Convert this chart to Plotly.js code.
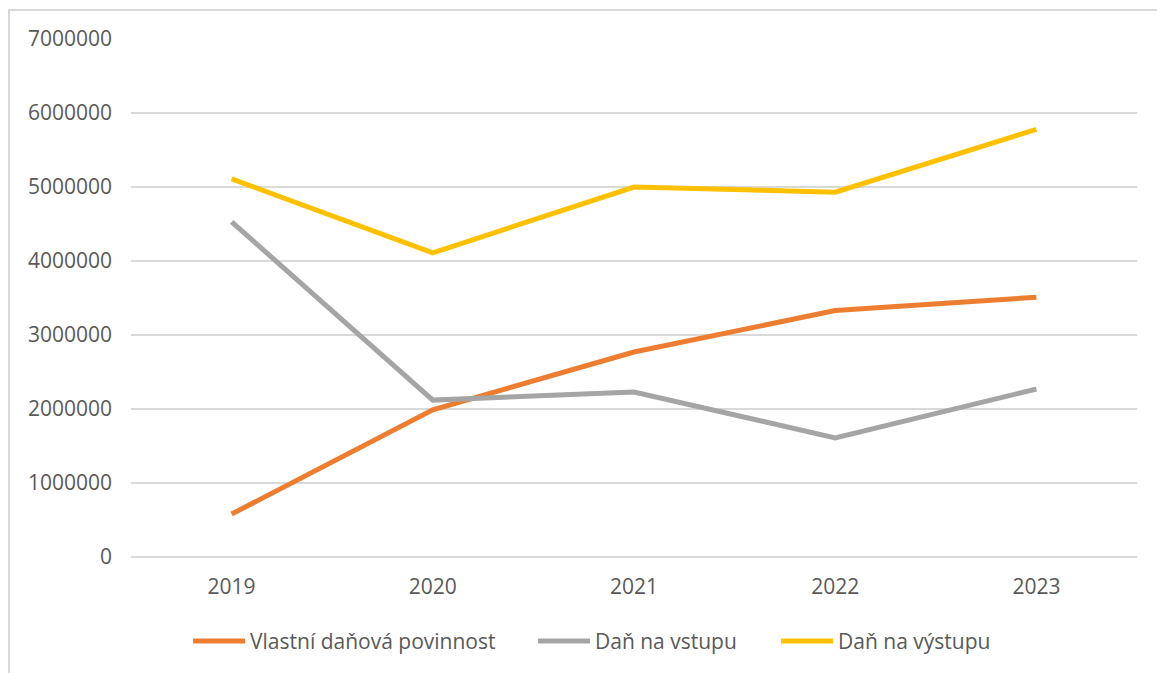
<!DOCTYPE html>
<html>
<head>
<meta charset="utf-8">
<script src="https://cdn.plot.ly/plotly-3.0.1.min.js"></script>
<style>
html,body{margin:0;padding:0;background:#fff;overflow:hidden;}
#wrap{position:relative;width:1157px;height:673px;}
#chart{position:absolute;left:0;top:0;width:1157px;height:673px;}
#frame{position:absolute;left:8px;top:9px;width:1200px;height:700px;border-left:2px solid #d9d9d9;border-top:2px solid #d9d9d9;pointer-events:none;}
</style>
</head>
<body>
<div id="wrap"><div id="chart"></div><div id="frame"></div></div>
<script>
const years = ["2019", "2020", "2021", "2022", "2023"];
const vlastniDanovaPovinnost = [580000, 1990000, 2770000, 3330000, 3510000];
const danNaVstupu = [4530000, 2120000, 2230000, 1610000, 2270000];
const danNaVystupu = [5110000, 4110000, 5000000, 4930000, 5780000];
const seriesNames = ["Vlastní daňová povinnost", "Daň na vstupu", "Daň na výstupu"];
const yTicks = [0, 1000000, 2000000, 3000000, 4000000, 5000000, 6000000, 7000000];

const colors = ["#ED7D31", "#A5A5A5", "#FFC000"];
const seriesData = [vlastniDanovaPovinnost, danNaVstupu, danNaVystupu];
const legendIds = ["legend", "legend2", "legend3"];
const legendX = [0.0567, 0.3996, 0.6412];
const FONT = "'Open Sans', 'Noto Sans', sans-serif";
const FS = 21;

const traces = seriesData.map((vals, i) => ({
  type: "scatter",
  mode: "lines",
  x: years,
  y: vals,
  name: seriesNames[i],
  legend: legendIds[i],
  line: {color: colors[i], width: 5},
  hoverinfo: "skip"
}));

const layout = {
  width: 1157,
  height: 673,
  margin: {l: 131, r: 20, t: 39, b: 116, autoexpand: false},
  paper_bgcolor: "#ffffff",
  plot_bgcolor: "#ffffff",
  font: {family: FONT, size: FS, color: "#595959"},
  showlegend: true,
  xaxis: {
    type: "category",
    range: [-0.5, 4.5],
    showgrid: false,
    showline: false,
    zeroline: false,
    ticks: "",
    ticklabelstandoff: 15,
    tickfont: {family: FONT, size: FS, color: "#595959"}
  },
  yaxis: {
    range: [0, 7000000],
    tickvals: yTicks,
    ticktext: yTicks.map(v => String(v)),
    showgrid: true,
    gridcolor: "#d9d9d9",
    gridwidth: 1.5,
    zeroline: true,
    zerolinecolor: "#d9d9d9",
    zerolinewidth: 1.5,
    showline: false,
    ticks: "",
    ticklabelstandoff: 18,
    tickfont: {family: FONT, size: FS, color: "#595959"}
  }
};

legendIds.forEach((id, i) => {
  layout[id] = {
    orientation: "h",
    x: legendX[i], xanchor: "left",
    y: -0.163, yanchor: "middle",
    font: {family: FONT, size: FS, color: "#595959"},
    itemwidth: 52,
    bgcolor: "rgba(0,0,0,0)"
  };
});

Plotly.newPlot("chart", traces, layout, {displayModeBar: false, staticPlot: true});
</script>
</body>
</html>
